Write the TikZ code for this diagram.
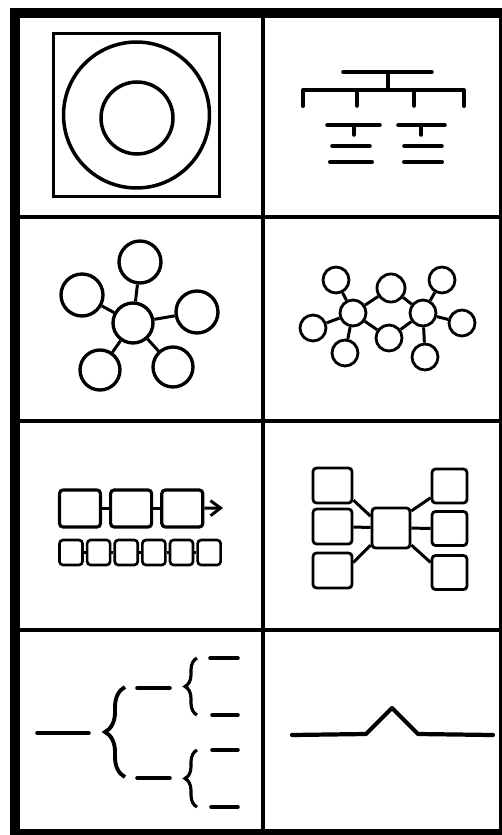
\documentclass[tikz,border=0pt]{standalone}
\usetikzlibrary{arrows.meta, positioning, decorations.pathreplacing}

\begin{document}
\begin{tikzpicture}[
    x=0.02cm, y=-0.02cm,
    ink/.style={line width=2pt, line cap=round, line join=round},
    ring/.style={
        circle,
        draw,
        line width=1.9pt,
        inner sep=0pt,
        minimum size=0.84cm
    },
    atom/.style={
        circle,
        draw,
        line width=1.6pt,
        inner sep=0pt,
        minimum size=0.52cm
    },
    bigbox/.style={
        rectangle,
        rounded corners=2pt,
        draw,
        line width=1.8pt,
        minimum width=0.82cm,
        minimum height=0.74cm
    },
    smallbox/.style={
        rectangle,
        rounded corners=2pt,
        draw,
        line width=1.5pt,
        minimum width=0.46cm,
        minimum height=0.5cm
    },
    hubbox/.style={
        rectangle,
        rounded corners=2pt,
        draw,
        line width=1.6pt,
        minimum width=0.78cm,
        minimum height=0.7cm
    },
    link/.style={line width=1.7pt},
    divider/.style={line width=2.2pt},
    bracket/.style={decorate, decoration={brace, amplitude=#1}, line width=2.2pt}
]

\useasboundingbox (0,0) rectangle (502,835);

% FRAME
\fill (10,8) rectangle (20,833);
\fill (10,8) rectangle (502,18);
\fill (10,829) rectangle (502,835);
\draw[line width=1.2pt] (500.5,18) -- (500.5,829);
\draw[divider] (263,18) -- (263,829);
\draw[divider] (20,217) -- (500,217);
\draw[divider] (20,421) -- (500,421);
\draw[divider] (20,630) -- (500,630);

% TARGET
\node[draw, line width=1.7pt, minimum width=3.34cm, minimum height=3.28cm] (plate) at (136.5,115) {};
\node[circle, draw, line width=2pt, minimum size=2.92cm] (outer) at (136.5,115) {};
\node[circle, draw, line width=2pt, minimum size=1.44cm] (inner) at (137,118) {};

% TREE
\draw[ink] (343,72) -- (432,72);
\draw[ink] (388,72) -- (388,90);
\draw[ink, line width=2.3pt] (303,106) -- (303,90) -- (464,90) -- (464,106);
\draw[ink] (357,90) -- (357,106);
\draw[ink] (414,90) -- (414,106);
\draw[ink] (327,125) -- (380,125);
\draw[ink] (354,125) -- (354,135);
\draw[ink] (332,146) -- (370,146);
\draw[ink, line width=2.3pt] (330,162) -- (372,162);
\draw[ink] (398,125) -- (445,125);
\draw[ink] (421,125) -- (421,135);
\draw[ink] (404,146) -- (442,146);
\draw[ink, line width=2.3pt] (404,162) -- (442,162);

% STAR
\node[ring, minimum size=0.8cm] (core) at (133,323) {};
\node[ring] (ptop) at (140,262) {};
\node[ring] (pleft) at (82,295) {};
\node[ring] (pright) at (197,312) {};
\node[ring, minimum size=0.8cm] (plowl) at (100,370) {};
\node[ring, minimum size=0.8cm] (plowr) at (173,367) {};
\draw[link] (core) -- (ptop);
\draw[link] (core) -- (pleft);
\draw[link] (core) -- (pright);
\draw[link] (core) -- (plowl);
\draw[link] (core) -- (plowr);

% MOLECULE
\node[atom] (ma) at (336,280) {};
\node[atom] (mb) at (313,328) {};
\node[atom] (mc) at (353,313) {};
\node[atom] (md) at (345,353) {};
\node[atom, minimum size=0.56cm] (me) at (391,288) {};
\node[atom] (mf) at (389,338) {};
\node[atom] (mg) at (423,313) {};
\node[atom] (mh) at (442,280) {};
\node[atom] (mi) at (462,323) {};
\node[atom] (mj) at (425,357) {};
\draw[link] (mc) -- (ma);
\draw[link] (mc) -- (mb);
\draw[link] (mc) -- (md);
\draw[link] (mc) -- (me);
\draw[link] (mc) -- (mf);
\draw[link] (me) -- (mg);
\draw[link] (mf) -- (mg);
\draw[link] (mg) -- (mh);
\draw[link] (mg) -- (mi);
\draw[link] (mg) -- (mj);

% CHAIN
\node[bigbox] (step1) at (80,508.5) {};
\node[bigbox, right=0.14cm of step1] (step2) {};
\node[bigbox, right=0.14cm of step2] (step3) {};
\coordinate (ahead) at (223,508);
\draw[link] (step1) -- (step2);
\draw[link] (step2) -- (step3);
\draw[link, -{Straight Barb[length=0.2cm, width=0.3cm]}] (step3) -- (ahead);

\node[smallbox] (cell1) at (71,552.5) {};
\node[smallbox, right=0.04cm of cell1] (cell2) {};
\node[smallbox, right=0.04cm of cell2] (cell3) {};
\node[smallbox, right=0.04cm of cell3] (cell4) {};
\node[smallbox, right=0.04cm of cell4] (cell5) {};
\node[smallbox, right=0.04cm of cell5] (cell6) {};
\draw[link] (cell1) -- (cell2);
\draw[link] (cell2) -- (cell3);
\draw[link] (cell3) -- (cell4);
\draw[link] (cell4) -- (cell5);
\draw[link] (cell5) -- (cell6);

% HUB
\node[hubbox, minimum width=0.76cm, minimum height=0.8cm] (hub) at (391,528) {};
\node[hubbox] (lt) at (332.5,485.5) {};
\node[hubbox] (lm) at (332.5,526.5) {};
\node[hubbox] (lb) at (332.5,570.5) {};
\node[hubbox, minimum width=0.7cm, minimum height=0.68cm] (rt) at (449.5,486) {};
\node[hubbox, minimum width=0.7cm, minimum height=0.68cm] (rm) at (449.5,528.5) {};
\node[hubbox, minimum width=0.7cm, minimum height=0.68cm] (rb) at (449.5,572.5) {};
\draw[link] (lt.325) -- (hub.150);
\draw[link] (lm) -- (hub);
\draw[link] (lb.21) -- (hub.220);
\draw[link] (hub.40) -- (rt.212);
\draw[link] (hub) -- (rm);
\draw[link] (hub.-40) -- (rb.152);

% BRACES
\draw[ink] (37,733) -- (89,733);
\draw[bracket=0.4cm] (125,777) -- (125,687);
\draw[ink] (137,688) -- (170,688);
\draw[ink] (137,778) -- (170,778);
\draw[bracket=0.24cm, line width=1.8pt] (197,715) -- (197,658);
\draw[bracket=0.24cm, line width=1.8pt] (197,807) -- (197,750);
\draw[ink] (210,658) -- (238,658);
\draw[ink] (212,715) -- (238,715);
\draw[ink] (212,750) -- (238,750);
\draw[ink] (211,807) -- (238,807);

% PEAK
\draw[ink, line width=2.4pt] (292,735) -- (366,734) -- (392,708) -- (418,734) -- (493,735);

\end{tikzpicture}
\end{document}
